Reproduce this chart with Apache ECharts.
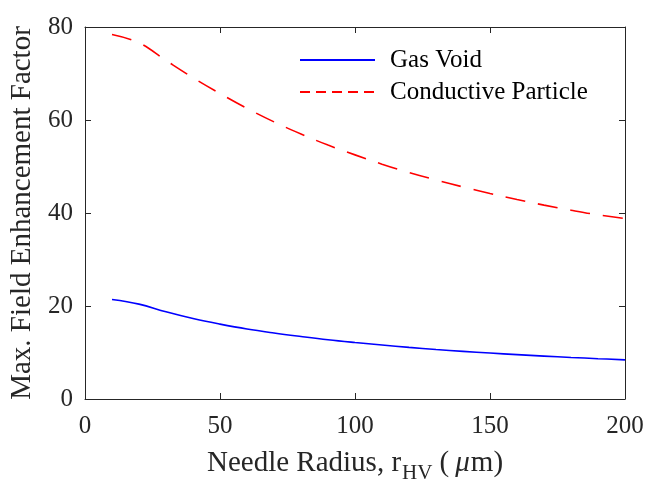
<!DOCTYPE html>
<html>
<head>
<meta charset="utf-8">
<script src="https://cdn.jsdelivr.net/npm/echarts@6/dist/echarts.min.js"></script>
<style>
    html, body { margin: 0; padding: 0; background: #fff; }
    #chart { width: 666px; height: 482px; }
</style>
</head>
<body>
<div id="chart"></div>
<script>
// needle radius (um)
var radius = [10, 20, 30, 40, 50, 60, 70, 80, 90, 100,
    110, 120, 130, 140, 150, 160, 170, 180, 190, 200];
var gasVoid = [21.4, 20.4, 18.75, 17.3, 16.1, 15.05, 14.2, 13.45, 12.75, 12.15,
    11.6, 11.1, 10.65, 10.25, 9.88, 9.54, 9.23, 8.94, 8.67, 8.42];
var particle = [78.4, 76.6, 72.8, 69.1, 65.7, 62.5, 59.6, 57.0, 54.6, 52.5,
    50.5, 48.7, 47.1, 45.6, 44.2, 42.9, 41.7, 40.6, 39.6, 38.8];
var seriesNames = ['Gas Void', 'Conductive Particle'];

var FONT = "'Liberation Serif', 'Times New Roman', serif";
var AX = '#262626';

function pairs(xs, ys) {
    var out = [];
    for (var i = 0; i < xs.length; i++) {
        out.push([xs[i], ys[i]]);
    }
    return out;
}

var myChart = echarts.init(document.getElementById('chart'));

function boxAxis() {
    return {
        axisLine: {show: true, onZero: false, lineStyle: {color: AX, width: 1}},
        axisTick: {show: true, inside: true, length: 6, lineStyle: {color: AX}},
        splitLine: {show: false}
    };
}

var option = {
    animation: false,
    backgroundColor: '#fff',
    grid: {left: 85, right: 41, top: 27, bottom: 83, outerBoundsMode: 'none', containLabel: false},
    legend: {
        orient: 'vertical',
        left: 294,
        top: 41,
        itemWidth: 75,
        itemHeight: 12,
        itemGap: 4,
        itemStyle: {color: 'transparent', borderWidth: 0},
        textStyle: {fontFamily: FONT, fontSize: 25, color: '#000', padding: [0, 0, 0, 10], lineHeight: 28},
        data: [
            {name: seriesNames[0], lineStyle: {width: 2, color: '#0000ff'}},
            {name: seriesNames[1], lineStyle: {width: 2, color: '#ff0000', type: [10, 6]}}
        ]
    },
    xAxis: [
        Object.assign({
            type: 'value', min: 0, max: 200, interval: 50,
            name: 'Needle Radius, r{sub|HV} ({mu|\u03bc}m)',
            nameLocation: 'middle',
            nameGap: 44,
            nameTextStyle: {
                fontFamily: FONT, fontSize: 29, color: AX,
                rich: {
                    sub: {fontFamily: FONT, fontSize: 21, color: AX, padding: [20, 0, 0, 1]},
                    mu: {fontFamily: FONT, fontSize: 29, color: AX, fontStyle: 'italic', padding: [0, 1, 0, 6]}
                }
            },
            axisLabel: {fontFamily: FONT, fontSize: 25, color: AX, margin: 15}
        }, boxAxis()),
        Object.assign({
            type: 'value', min: 0, max: 200, interval: 50, position: 'top',
            axisLabel: {show: false}
        }, boxAxis())
    ],
    yAxis: [
        Object.assign({
            type: 'value', min: 0, max: 80, interval: 20,
            name: 'Max. Field Enhancement Factor',
            nameLocation: 'middle',
            nameGap: 47,
            nameTextStyle: {fontFamily: FONT, fontSize: 29, color: AX},
            axisLabel: {fontFamily: FONT, fontSize: 25, color: AX, margin: 12}
        }, boxAxis()),
        Object.assign({
            type: 'value', min: 0, max: 80, interval: 20, position: 'right',
            axisLabel: {show: false}
        }, boxAxis())
    ],
    series: [
        {
            name: seriesNames[0],
            type: 'line',
            data: pairs(radius, gasVoid),
            smooth: 0.4,
            showSymbol: false,
            symbol: 'none',
            lineStyle: {color: '#0000ff', width: 1.6},
            itemStyle: {color: '#0000ff'}
        },
        {
            name: seriesNames[1],
            type: 'line',
            data: pairs(radius, particle),
            smooth: 0.4,
            showSymbol: false,
            symbol: 'none',
            lineStyle: {color: '#ff0000', width: 1.6, type: [20, 13]},
            itemStyle: {color: '#ff0000'}
        }
    ]
};

myChart.setOption(option);
</script>
</body>
</html>
